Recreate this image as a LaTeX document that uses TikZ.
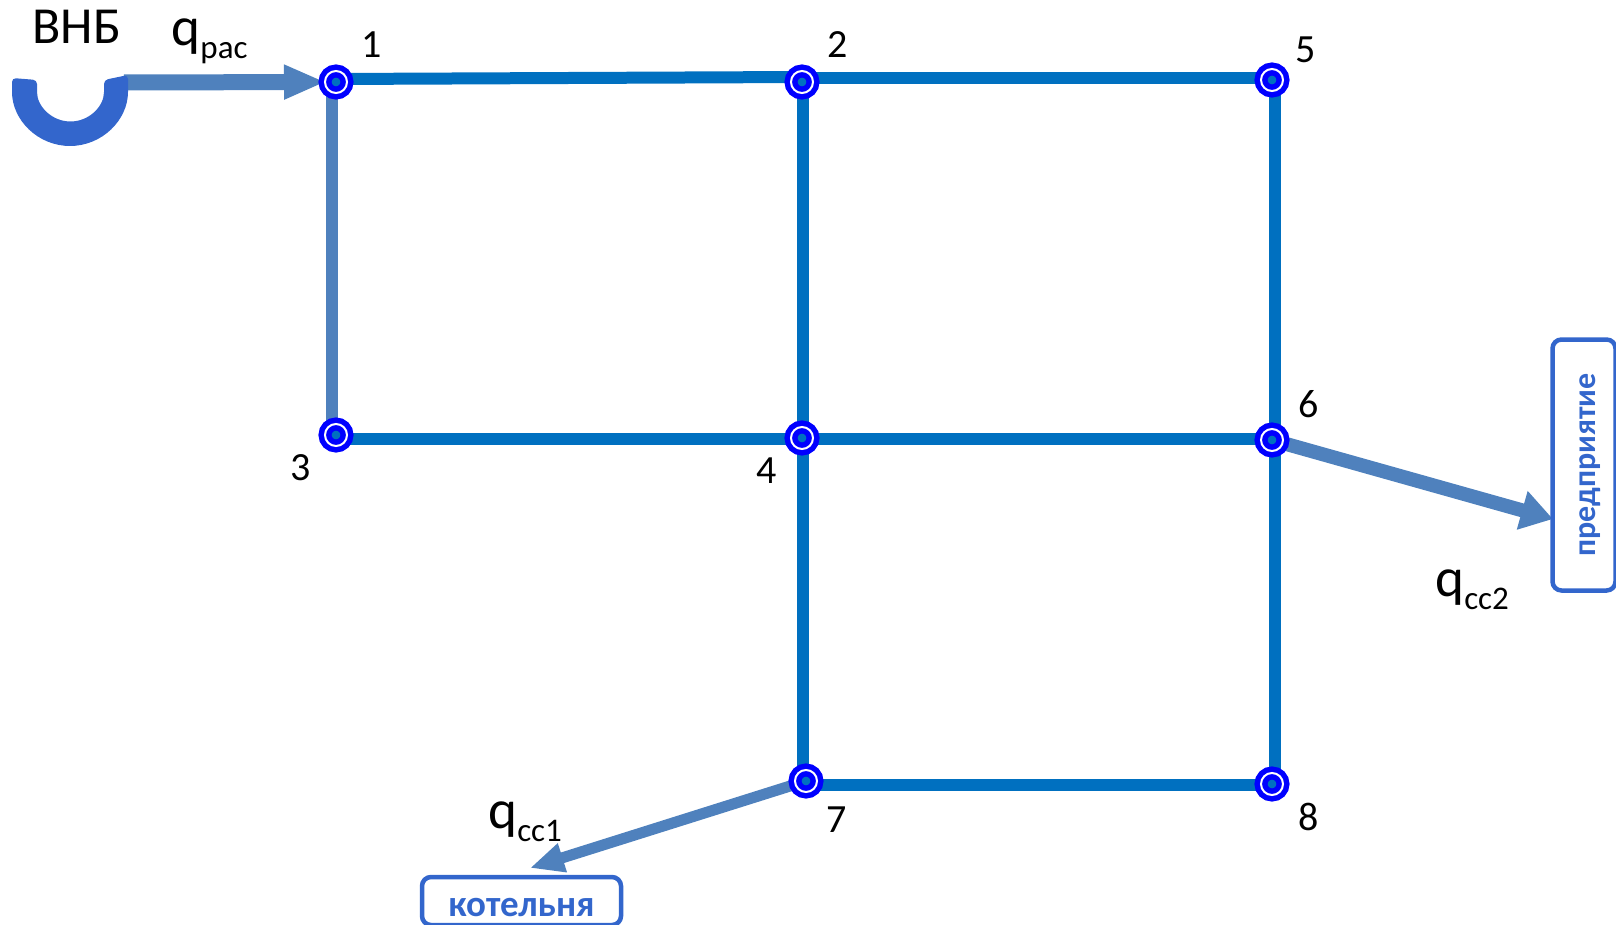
\documentclass[tikz,border=0pt]{standalone}
\usepackage{fontspec}
\setmainfont{Carlito}
\usetikzlibrary{arrows.meta, backgrounds}
\definecolor{pipeblue}{HTML}{0070C0}
\definecolor{flowblue}{HTML}{4F81BD}
\definecolor{boxblue}{HTML}{3366CC}
\newcommand{\qflow}[1]{q\raisebox{-13pt}{\fontsize{33}{33}\selectfont #1}}
\tikzset{
  junction/.style={circle, draw=blue, double=white, line width=5.5pt, double distance=2pt,
    fill=pipeblue, minimum size=22pt, inner sep=0pt},
  pipe/.style={pipeblue, line width=12pt},
  num/.style={anchor=base, font=\fontsize{40}{40}\selectfont},
  flowlabel/.style={anchor=base west, font=\fontsize{55}{55}\selectfont},
  consumer/.style={draw=boxblue, line width=4.5pt, rounded corners=9pt, text=boxblue,
    inner sep=0pt},
  flow/.style 2 args={flowblue, -{Triangle[length=#1,width=#2]}},
}

\begin{document}
\begin{tikzpicture}[x=1pt, y=-1pt]
  \useasboundingbox (0,0) rectangle (1616,925);

  % the junctions of the network
  \node[junction] (n1) at (336,82) {};
  \node[junction] (n2) at (802,82) {};
  \node[junction] (n5) at (1272,80) {};
  \node[junction] (n3) at (336,435) {};
  \node[junction] (n4) at (802,438) {};
  \node[junction] (n6) at (1272,440) {};
  \node[junction] (n7) at (806,781) {};
  \node[junction] (n8) at (1272,784) {};

  % their numbers
  \node[num] (l1) at (372,58) {1};
  \node[num] (l2) at (838,58) {2};
  \node[num] (l5) at (1306,63) {5};
  \node[num] (l3) at (301,480) {3};
  \node[num] (l4) at (767,483) {4};
  \node[num] (l6) at (1309,417) {6};
  \node[num] (l7) at (837,832) {7};
  \node[num] (l8) at (1309,830) {8};

  % the consumers
  \node[consumer, rotate=90, minimum width=251pt, minimum height=63pt,
        text height=23pt, text depth=0pt, font=\fontsize{32}{32}\bfseries\selectfont]
        (plant) at (1584,465) {предприятие};
  \node[consumer, minimum width=199pt, minimum height=48pt,
        text height=30pt, text depth=0pt, font=\fontsize{37}{37}\bfseries\selectfont]
        (boiler) at (521.5,901) {котельня};
  \coordinate (plantin) at (1553,519);
  \coordinate (boilerin) at (530,868);

  % the well
  \fill[boxblue, rounded corners=4pt] (12,78) -- (37,80) -- (37,88)
    arc[start angle=180, end angle=0, radius=33.5] -- (104,80) -- (128,75) -- (128,88)
    arc[start angle=0, end angle=180, radius=58] -- cycle;
  \coordinate (well) at (124,82.5);
  \node[anchor=base, font=\fontsize{52}{52}\selectfont] (wname) at (77,44) {ВНБ};

  \begin{scope}[on background layer]
    \draw[pipe, flowblue] ([xshift=-4pt]n1.center) -- ([xshift=-4pt]n3.center);
    \draw[pipe] ([yshift=3pt]n1.center) -- ([yshift=5pt]n2.center);
    \draw[pipe] ([yshift=4pt]n2.center) -- ([yshift=2pt]n5.center);
    \draw[pipe] ([xshift=1pt]n2.center) -- ([xshift=1pt]n4.center);
    \draw[pipe] ([xshift=3pt]n5.center) -- ([xshift=3pt]n6.center);
    \draw[pipe] ([yshift=-4pt]n3.center) -- ([yshift=-1pt]n4.center);
    \draw[pipe] ([yshift=-1pt]n4.center) -- ([yshift=1pt]n6.center);
    \draw[pipe] ([xshift=1pt]n4.center) -- ([xshift=-3pt]n7.center);
    \draw[pipe] ([xshift=3pt]n6.center) -- ([xshift=3pt]n8.center);
    \draw[pipe] ([yshift=-4pt]n7.center) -- ([yshift=-1pt]n8.center);

    % what goes in and what comes out
    \draw[flow={42pt}{32pt}, line width=16pt] (well) -- ([xshift=-10pt]n1.center);
    \draw[flow={32pt}{38pt}, line width=14pt] (n6) -- (plantin);
    \draw[flow={34pt}{28pt}, line width=11pt] (n7) -- (boilerin);
  \end{scope}
  \node[flowlabel] (qin) at (168,46) {\qflow{рас}};
  \node[flowlabel] (qout2) at (1432,596) {\qflow{сс2}};
  \node[flowlabel] (qout1) at (485,828) {\qflow{сс1}};
\end{tikzpicture}
\end{document}
